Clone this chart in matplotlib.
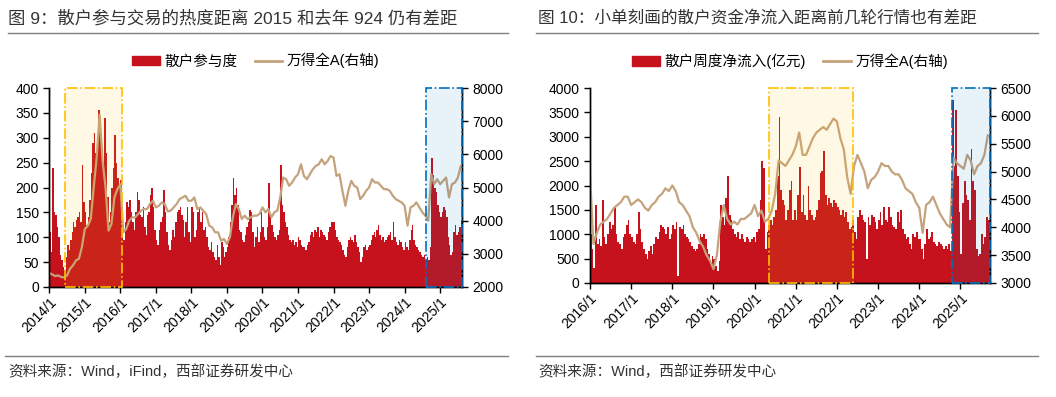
import numpy as np
import matplotlib
matplotlib.use("Agg")
import matplotlib.pyplot as plt
from matplotlib.lines import Line2D
from matplotlib.patches import Patch

plt.rcParams['font.family'] = ['Liberation Sans', 'Noto Sans CJK SC']
plt.rcParams['axes.unicode_minus'] = False

# ---- left chart: retail participation (semi-monthly) and Wind All A (monthly) ----
part_start = 2014
participation = [
    110, 70, 240, 150, 145, 120, 100, 65, 55, 40, 35, 60, 85, 75, 95, 110, 130, 120, 135, 140, 150, 130, 245, 170,
    150, 125, 140, 175, 230, 290, 310, 270, 300, 355, 305, 280, 240, 340, 270, 180, 130, 150, 200, 240, 305, 250, 220, 205,
    215, 110, 95, 130, 170, 160, 175, 150, 130, 115, 150, 190, 175, 145, 140, 160, 120, 105, 145, 150, 185, 200, 160, 115,
    95, 85, 115, 130, 140, 195, 150, 110, 85, 75, 95, 115, 100, 130, 150, 155, 160, 145, 135, 100, 130, 160, 110, 90,
    160, 150, 100, 115, 150, 160, 130, 150, 115, 120, 100, 80, 75, 90, 70, 60, 55, 85, 60, 45, 90, 80, 60, 70,
    80, 100, 130, 165, 220, 185, 200, 165, 115, 110, 95, 90, 105, 120, 130, 155, 150, 110, 80, 100, 120, 90, 110, 150,
    120, 100, 95, 120, 210, 140, 125, 110, 100, 95, 105, 115, 245, 165, 150, 130, 120, 105, 95, 90, 95, 85, 90, 80,
    100, 95, 85, 80, 80, 75, 85, 90, 105, 110, 100, 115, 110, 120, 100, 115, 110, 105, 100, 95, 110, 120, 130, 130,
    130, 115, 100, 95, 90, 85, 75, 65, 60, 80, 95, 100, 95, 90, 105, 90, 80, 70, 50, 60, 80, 85, 75, 80,
    85, 95, 105, 110, 100, 115, 125, 105, 95, 100, 90, 95, 100, 105, 110, 95, 130, 100, 90, 85, 95, 90, 80, 75,
    90, 80, 75, 95, 115, 125, 95, 85, 80, 75, 70, 65, 60, 65, 55, 60, 55, 80, 260, 225, 200, 190, 165, 150,
    140, 150, 160, 155, 140, 100, 85, 65, 70, 110, 125, 105, 110, 120, 135, 140,
]
wind_a_left = [
    2420, 2380, 2330, 2350, 2300, 2290, 2350, 2550, 2650, 2800, 2850, 3200,
    3750, 3850, 4050, 5000, 5900, 7200, 5800, 5000, 3700, 3900, 4700, 4950,
    5100, 3650, 3750, 4000, 4100, 4100, 4200, 4300, 4350, 4350, 4500, 4600,
    4400, 4450, 4550, 4500, 4280, 4300, 4400, 4500, 4650, 4700, 4750, 4600,
    4600, 4700, 4350, 4400, 4300, 4200, 3850, 3800, 3650, 3650, 3400, 3450,
    3300, 3500, 4100, 4500, 4350, 4050, 4150, 4050, 4100, 4150, 4150, 4200,
    4400, 4250, 4350, 4100, 4250, 4300, 4700, 5300, 5250, 5050, 5150, 5300,
    5400, 5700, 5350, 5250, 5400, 5550, 5650, 5700, 5850, 5700, 5800, 5950,
    5900, 5350, 5400, 4900, 4450, 4900, 5200, 5050, 5000, 4650, 4750, 4900,
    5000, 5250, 5150, 5150, 5050, 4950, 4950, 4900, 4750, 4650, 4600, 4550,
    4450, 3850, 4400, 4450, 4550, 4400, 4250, 4150, 4000, 5400, 5100, 5250,
    5100, 5200, 5300, 4700, 5100, 5150, 5300, 5650,
]

# ---- right chart: small-order retail net inflow (semi-monthly) and Wind All A ----
flow_start = 2016
net_inflow = [
    1000, 700, 300, 1600, 800, 900, 750, 1700, 950, 800, 1000, 1250, 1100, 1200, 1550, 1000, 850, 800, 700, 950, 1000, 1200, 1300, 1000,
    950, 850, 800, 1000, 1450, 1100, 850, 700, 600, 500, 650, 750, 600, 800, 950, 900, 1050, 1200, 1150, 1100, 1000, 1150, 900, 1000,
    1200, 1100, 1250, 150, 1150, 1100, 1200, 1000, 950, 900, 850, 750, 700, 650, 700, 800, 1000, 950, 1000, 900, 700, 600, 400, 550,
    500, 350, 250, 450, 1600, 1350, 1200, 1750, 2200, 1400, 1300, 1100, 1000, 950, 1050, 900, 1000, 900, 850, 950, 900, 850, 900, 950,
    850, 1050, 1100, 1700, 2500, 2350, 700, 1050, 1200, 1300, 1200, 1350, 1500, 2200, 3400, 1900, 1700, 1600, 1300, 1500, 1900, 2100, 1300, 1500,
    1300, 1800, 2370, 1450, 1800, 1400, 1300, 2000, 1500, 1400, 1300, 1350, 1500, 1700, 2250, 2300, 2700, 1800, 1600, 1750, 1650, 1550, 1700, 1650,
    1550, 1500, 1400, 1500, 1350, 1450, 1250, 1100, 1150, 1300, 1050, 900, 1350, 1500, 1400, 1300, 1250, 500, 1350, 1200, 1400, 1350, 1250, 1100,
    1300, 1450, 1200, 1550, 1300, 1250, 1550, 1350, 1200, 1150, 1100, 1450, 1250, 1500, 1100, 1000, 900, 950, 800, 700, 1000, 950, 1050, 900,
    900, 700, 500, 800, 1100, 900, 950, 1050, 850, 800, 750, 850, 800, 750, 700, 750, 700, 800, 650, 3750, 2400, 3550, 2200, 1450,
    600, 1650, 2100, 1800, 1700, 1300, 2750, 2100, 1900, 700, 550, 600, 1000, 800, 950, 1350, 1300,
]
wind_a_right = [
    4950, 3700, 3900, 4050, 4100, 4150, 4250, 4350, 4400, 4450, 4550, 4550,
    4400, 4450, 4500, 4450, 4350, 4300, 4400, 4450, 4550, 4600, 4700, 4650,
    4750, 4650, 4450, 4400, 4300, 4200, 4000, 3900, 3750, 3650, 3500, 3400,
    3250, 3500, 4100, 4400, 4150, 4050, 4100, 4050, 4150, 4150, 4200, 4250,
    4400, 4200, 4300, 4100, 4150, 4300, 4600, 5200, 5150, 5100, 5200, 5300,
    5450, 5700, 5300, 5300, 5450, 5600, 5700, 5750, 5800, 5750, 5850, 5950,
    5900, 5600, 5400, 4900, 4600, 5100, 5300, 5150, 5000, 4700, 4850, 4900,
    5000, 5150, 5100, 5100, 5000, 4950, 4950, 4850, 4700, 4650, 4600, 4450,
    4350, 3900, 4400, 4450, 4550, 4400, 4250, 4150, 4050, 4000, 5250, 5150,
    5100, 5050, 5300, 5200, 4950, 5100, 5150, 5300, 5650,
]

RED = '#C5121C'
TAN = '#C4A27C'
YELLOW = '#FFC000'
BLUE = '#0070C0'


def draw_panel(ax, start, bars, line, xlim, ylim, y2lim, ystep, y2step, spans, bar_label):
    bx = start + np.arange(len(bars)) / 24.0
    lx = start + np.arange(len(line)) / 12.0
    ax.bar(bx, bars, width=1 / 24.0, align='edge', color=RED, linewidth=0)
    ax.set_xlim(*xlim)
    ax.set_ylim(*ylim)
    ax.set_yticks(np.arange(ylim[0], ylim[1] + 1, ystep))
    years = list(range(start, 2026))
    ax.set_xticks(years)
    ax.set_xticklabels([f"{y}/1" for y in years], rotation=45, ha='right',
                       rotation_mode='anchor')
    ax2 = ax.twinx()
    ax2.plot(lx, line, color=TAN, lw=1.6)
    ax2.set_ylim(*y2lim)
    ax2.set_yticks(np.arange(y2lim[0], y2lim[1] + 1, y2step))
    for x0, x1, c, a in spans:
        r, g, b = matplotlib.colors.to_rgb(c)
        ax2.axvspan(x0, x1, facecolor=(r, g, b, a), edgecolor=c, linestyle='-.',
                    lw=1.2, zorder=5, clip_on=False)
    for a in (ax, ax2):
        a.spines['top'].set_visible(False)
        for s in ('left', 'right', 'bottom'):
            a.spines[s].set_color('black')
            a.spines[s].set_linewidth(1.0)
        a.tick_params(direction='out', length=4, width=1, labelsize=10, colors='black')
    ax.tick_params(axis='x', pad=2)
    handles = [Patch(color=RED), Line2D([], [], color=TAN, lw=2)]
    ax.legend(handles, [bar_label, '万得全A(右轴)'], loc='center', bbox_to_anchor=(0.5, 1.137),
              ncol=2, frameon=False, fontsize=10.5, handlelength=1.9, handleheight=0.6,
              handletextpad=0.3, columnspacing=1.2)
    return ax2


fig = plt.figure(figsize=(10.56, 3.97), dpi=100)
W, H = 1056, 397

ax1 = fig.add_axes([49.3 / W, 1 - 287 / H, 412.5 / W, 199 / H])
draw_panel(ax1, part_start, participation, wind_a_left, (2014, 2025.61), (0, 400), (2000, 8000),
           50, 1000, [(2014.43, 2016.05, YELLOW, 0.10), (2024.61, 2025.61, BLUE, 0.09)], '散户参与度')

ax3 = fig.add_axes([590 / W, 1 - 283 / H, 400 / W, 195 / H])
draw_panel(ax3, flow_start, net_inflow, wind_a_right, (2016, 2025.72), (0, 4000), (3000, 6500),
           500, 500, [(2020.35, 2022.40, YELLOW, 0.10), (2024.80, 2025.72, BLUE, 0.09)], '散户周度净流入(亿元)')

# titles, rules and sources
fig.text(8 / W, 1 - 18 / H, '图 9：散户参与交易的热度距离 2015 和去年 924 仍有差距', fontsize=12.5,
         color='#333333', va='center', ha='left')
fig.text(538 / W, 1 - 18 / H, '图 10：小单刻画的散户资金净流入距离前几轮行情也有差距', fontsize=12,
         color='#333333', va='center', ha='left')
for x0, x1 in ((8, 508), (536, 1038)):
    fig.add_artist(Line2D([x0 / W, x1 / W], [1 - 33 / H, 1 - 33 / H], color='#7f7f7f', lw=1))
for x0, x1 in ((5, 508), (536, 1038)):
    fig.add_artist(Line2D([x0 / W, x1 / W], [1 - 356 / H, 1 - 356 / H], color='#7f7f7f', lw=1))
fig.text(8 / W, 1 - 372 / H, '资料来源：Wind，iFind，西部证券研发中心', fontsize=10.5,
         color='#333333', va='center', ha='left')
fig.text(538 / W, 1 - 372 / H, '资料来源：Wind，西部证券研发中心', fontsize=10.5,
         color='#333333', va='center', ha='left')

fig.savefig('out.png', dpi=100)
